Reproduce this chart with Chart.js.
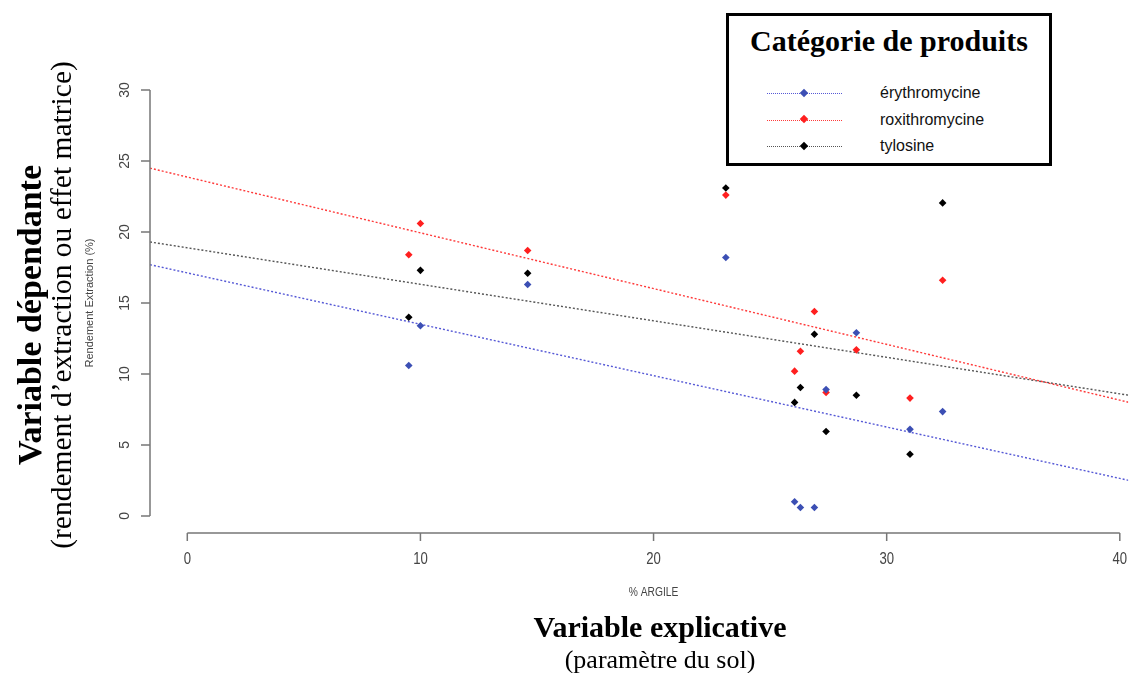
<!DOCTYPE html>
<html>
<head>
<meta charset="utf-8">
<script src="https://cdn.jsdelivr.net/npm/chart.js@4.4.1/dist/chart.umd.min.js"></script>
<style>
  body { margin: 0; background: #fff; }
  #wrap { position: relative; width: 1132px; height: 673px; overflow: hidden; }
  #wrap canvas { position: absolute; left: 0; top: 0; }
  .serif { position: absolute; font-family: "Liberation Serif", "Times New Roman", serif; color: #000; white-space: nowrap; }
  .rot { transform: translate(-50%, -50%) rotate(-90deg); }
  .hor { transform: translate(-50%, -50%); }
  #legend { position: absolute; left: 726px; top: 13px; width: 326px; height: 153px; box-sizing: border-box; border: 3px solid #000; background: #fff; }
  #legend .title { position: absolute; left: 0; right: 0; top: 8px; text-align: center; font: bold 30px "Liberation Serif", "Times New Roman", serif; }
  #legend .row { position: absolute; left: 0; height: 20px; }
  #legend .sample { position: absolute; left: 38px; width: 75px; top: 10px; border-top: 1.5px dotted; }
  #legend .dot { position: absolute; left: 34px; top: -4.5px; width: 6px; height: 6px; transform: rotate(45deg); }
  #legend .txt { position: absolute; left: 151px; top: 0; font: 16px "Liberation Sans", Arial, sans-serif; color: #111; white-space: nowrap; line-height: 20px; }
</style>
</head>
<body>
<div id="wrap">
  <canvas id="chart" width="1132" height="673"></canvas>
  <div class="serif rot" style="left:30px; top:315px; font-size:34px; font-weight:bold;">Variable dépendante</div>
  <div class="serif rot" style="left:61px; top:305px; font-size:29.5px;">(rendement d’extraction ou effet matrice)</div>
  <div class="serif hor" style="left:660px; top:627px; font-size:30px; font-weight:bold;">Variable explicative</div>
  <div class="serif hor" style="left:660px; top:660px; font-size:26px;">(paramètre du sol)</div>
  <div id="legend"><div class="title">Catégorie de produits</div></div>
</div>
<script>
// % argile of each soil sample
const clayPct = [9.5, 10.0, 14.6, 23.1, 26.05, 26.3, 26.9, 27.4, 28.7, 31.0, 32.4];

// Rendement extraction (%) per antibiotic
const erythromycine = [10.6, 13.4, 16.3, 18.2, 1.0, 0.6, 0.6, 8.9, 12.9, 6.1, 7.35];
const roxithromycine = [18.4, 20.6, 18.7, 22.6, 10.2, 11.6, 14.4, 8.7, 11.7, 8.3, 16.6];
const tylosine = [14.0, 17.3, 17.1, 23.1, 8.0, 9.05, 12.8, 5.95, 8.5, 4.35, 22.05];

// regression lines, read at the left and right edges of the plot
const fitX = [-1.6, 40.4];
const erythromycineFit = [17.7, 2.5];
const roxithromycineFit = [24.5, 8.0];
const tylosineFit = [19.3, 8.5];

const seriesNames = ['érythromycine', 'roxithromycine', 'tylosine'];
const xTicks = [0, 10, 20, 30, 40];
const yTicks = [0, 5, 10, 15, 20, 25, 30];

const markerColors = ['#3c4fb4', '#ff1f1f', '#000000'];
const lineColors = ['#5659d6', '#ff3a3a', '#555555'];

function pointsSet(label, values, color) {
  return {
    label: label,
    data: clayPct.map((c, i) => ({ x: c, y: values[i] })),
    pointStyle: 'rectRot',
    pointRadius: 3.8,
    pointHoverRadius: 3.8,
    backgroundColor: color,
    borderColor: color,
    borderWidth: 0,
    showLine: false,
    order: 1
  };
}

function fitSet(label, ends, color) {
  return {
    label: label + ' (fit)',
    data: fitX.map((v, i) => ({ x: v, y: ends[i] })),
    showLine: true,
    borderColor: color,
    borderWidth: 1.4,
    borderDash: [2, 2],
    pointRadius: 0,
    fill: false,
    order: 2
  };
}

// condensed text, like the R device output
function narrowText(ctx, text, px, py, squeeze) {
  ctx.save();
  ctx.translate(px, py);
  ctx.scale(squeeze, 1);
  ctx.fillText(text, 0, 0);
  ctx.restore();
}

// R-style axes: line only spans the ticks
const rAxes = {
  id: 'rAxes',
  afterDraw(chart) {
    const ctx = chart.ctx;
    const x = chart.scales.x, y = chart.scales.y;
    const yBottom = chart.chartArea.bottom;
    const xLeft = chart.chartArea.left;
    ctx.save();
    ctx.strokeStyle = '#777';
    ctx.lineWidth = 1.5;
    ctx.fillStyle = '#444';

    // x axis
    ctx.beginPath();
    ctx.moveTo(x.getPixelForValue(xTicks[0]), yBottom);
    ctx.lineTo(x.getPixelForValue(xTicks[xTicks.length - 1]), yBottom);
    xTicks.forEach(t => {
      const px = x.getPixelForValue(t);
      ctx.moveTo(px, yBottom);
      ctx.lineTo(px, yBottom + 8);
    });
    ctx.stroke();
    ctx.font = '16px "Liberation Sans", Arial, sans-serif';
    ctx.textAlign = 'center';
    ctx.textBaseline = 'middle';
    xTicks.forEach(t => narrowText(ctx, String(t), x.getPixelForValue(t), yBottom + 27, 0.82));
    ctx.font = '12.5px "Liberation Sans", Arial, sans-serif';
    narrowText(ctx, '% ARGILE', (chart.chartArea.left + x.getPixelForValue(41.6)) / 2, 593, 0.82);

    // y axis
    ctx.beginPath();
    ctx.moveTo(xLeft, y.getPixelForValue(yTicks[0]));
    ctx.lineTo(xLeft, y.getPixelForValue(yTicks[yTicks.length - 1]));
    yTicks.forEach(t => {
      const py = y.getPixelForValue(t);
      ctx.moveTo(xLeft, py);
      ctx.lineTo(xLeft - 9, py);
    });
    ctx.stroke();
    ctx.font = '14px "Liberation Sans", Arial, sans-serif';
    yTicks.forEach(t => {
      ctx.save();
      ctx.translate(xLeft - 25, y.getPixelForValue(t));
      ctx.rotate(-Math.PI / 2);
      ctx.fillText(String(t), 0, 0);
      ctx.restore();
    });
    ctx.save();
    ctx.font = '11px "Liberation Sans", Arial, sans-serif';
    ctx.translate(90, (chart.chartArea.top + chart.chartArea.bottom) / 2);
    ctx.rotate(-Math.PI / 2);
    ctx.fillText('Rendement Extraction (%)', 0, 0);
    ctx.restore();

    ctx.restore();
  }
};

const ctx = document.getElementById('chart').getContext('2d');
const chart = new Chart(ctx, {
  type: 'scatter',
  data: {
    datasets: [
      pointsSet(seriesNames[0], erythromycine, markerColors[0]),
      pointsSet(seriesNames[1], roxithromycine, markerColors[1]),
      pointsSet(seriesNames[2], tylosine, markerColors[2]),
      fitSet(seriesNames[0], erythromycineFit, lineColors[0]),
      fitSet(seriesNames[1], roxithromycineFit, lineColors[1]),
      fitSet(seriesNames[2], tylosineFit, lineColors[2])
    ]
  },
  options: {
    responsive: false,
    animation: false,
    layout: { padding: { left: 150, right: 0, top: 73, bottom: 140 } },
    scales: {
      x: { type: 'linear', display: false, min: -1.6, max: 40.36 },
      y: { type: 'linear', display: false, min: -1.2, max: 31.2 }
    },
    plugins: {
      legend: { display: false },
      tooltip: { enabled: false }
    }
  },
  plugins: [rAxes]
});

// legend box built from the point datasets
const legend = document.getElementById('legend');
chart.data.datasets.slice(0, 3).forEach((ds, i) => {
  const row = document.createElement('div');
  row.className = 'row';
  row.style.top = (67 + i * 26.7) + 'px';
  row.innerHTML =
    '<div class="sample" style="border-color:' + lineColors[i] + '">' +
    '<div class="dot" style="background:' + ds.backgroundColor + '"></div></div>' +
    '<div class="txt">' + ds.label + '</div>';
  legend.appendChild(row);
});
</script>
</body>
</html>
